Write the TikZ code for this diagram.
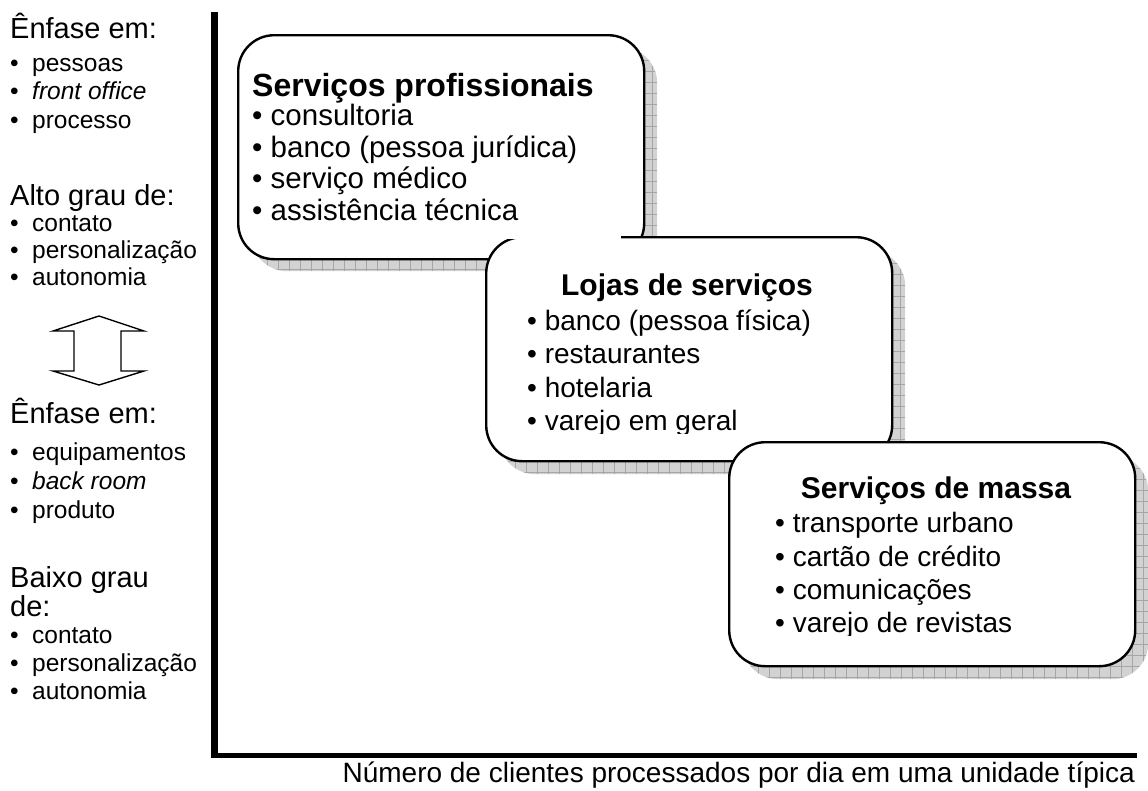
\documentclass[tikz,border=0pt]{standalone}
\usepackage{fontspec}
\setmainfont{Liberation Sans}
\tikzset{
  boxshape/.style={draw=black, line width=2.4pt, fill=white, rounded corners=36pt,
    minimum width=406pt, minimum height=224pt, inner sep=0pt, anchor=north west},
  shadowshape/.style={fill=gray!35, rounded corners=36pt,
    minimum width=406pt, minimum height=224pt, inner sep=0pt, anchor=north west,
    path picture={\draw[gray!70, line width=0.7pt, step=11pt]
      (path picture bounding box.south west) grid (path picture bounding box.north east);}},
  lefthead/.style={anchor=base west, inner sep=0pt, font=\fontsize{29}{34}\selectfont},
  leftitem/.style={anchor=base west, inner sep=0pt, font=\fontsize{24.5}{29}\selectfont},
  titleA/.style={anchor=base west, inner sep=0pt, font=\fontsize{32}{38}\selectfont\bfseries},
  itemA/.style={anchor=base west, inner sep=0pt, font=\fontsize{29.5}{34}\selectfont},
  titleB/.style={anchor=base, inner sep=0pt, font=\fontsize{30}{36}\selectfont\bfseries},
  itemB/.style={anchor=base west, inner sep=0pt, font=\fontsize{28}{33}\selectfont},
  axislabel/.style={anchor=base east, inner sep=0pt, font=\fontsize{28}{33}\selectfont},
}
\newcommand\lbul{\makebox[22pt][l]{•}}
\begin{document}
\begin{tikzpicture}[x=1pt,y=-1pt]
\useasboundingbox (0,0) rectangle (1148,790);

% left column
\node[lefthead] (h1) at (10,38) {Ênfase em:};
\node[leftitem] (h1a) at (10,71) {\lbul pessoas};
\node[leftitem] (h1b) at (10,99.5) {\lbul\itshape front office};
\node[leftitem] (h1c) at (10,128) {\lbul processo};
\node[lefthead] (h2) at (10,205) {Alto grau de:};
\node[leftitem] (h2a) at (10,231) {\lbul contato};
\node[leftitem] (h2b) at (10,258.5) {\lbul personalização};
\node[leftitem] (h2c) at (10,285) {\lbul autonomia};

\draw[line width=1.4pt, fill=white]
  (99,316) -- (144,331) -- (121,331) -- (121,371) -- (144,371) -- (99,385)
  -- (53,371) -- (74,371) -- (74,331) -- (53,331) -- cycle;

\node[lefthead] (h3) at (10,423) {Ênfase em:};
\node[leftitem] (h3a) at (10,460) {\lbul equipamentos};
\node[leftitem] (h3b) at (10,489) {\lbul\itshape back room};
\node[leftitem] (h3c) at (10,518) {\lbul produto};
\node[lefthead] (h4) at (10,587) {Baixo grau};
\node[lefthead] (h4x) at (10,616) {de:};
\node[leftitem] (h4a) at (10,643) {\lbul contato};
\node[leftitem] (h4b) at (10,671) {\lbul personalização};
\node[leftitem] (h4c) at (10,699) {\lbul autonomia};

% axes
\fill (211,12) rectangle (218,758);
\fill (211,752.5) rectangle (1137,758);
\node[axislabel] (xl) at (1135,782) {Número de clientes processados por dia em uma unidade típica};

% box 1
\node[shadowshape] (s1) at (251,47) {};
\node[boxshape] (b1) at (237,34) {};
% box 2
\node[shadowshape] (s2) at (499,250) {};
\node[boxshape] (b2) at (485,236) {};
% text frame of box 1
\fill[white] (248,50) rectangle (621,238.5);
\node[titleA] (t1) at (252,96) {Serviços profissionais};
\node[itemA] (t1a) at (252,125) {• consultoria};
\node[itemA] (t1b) at (252,157) {• banco (pessoa jurídica)};
\node[itemA] (t1c) at (252,188.5) {• serviço médico};
\node[itemA] (t1d) at (252,220) {• assistência técnica};
% box 3
\node[shadowshape] (s3) at (742,455) {};
\node[boxshape] (b3) at (728,441) {};
% text of box 2
\begin{scope}
\clip (490,240) rectangle (886,433.5);
\node[titleB] (t2) at (687,295) {Lojas de serviços};
\node[itemB] (t2a) at (527,330) {• banco (pessoa física)};
\node[itemB] (t2b) at (527,363.5) {• restaurantes};
\node[itemB] (t2c) at (527,397) {• hotelaria};
\node[itemB] (t2d) at (527,430.5) {• varejo em geral};
\end{scope}
% text of box 3
\begin{scope}
\clip (733,445) rectangle (1128,635);
\node[titleB] (t3) at (936,498) {Serviços de massa};
\node[itemB] (t3a) at (775,532) {• transporte urbano};
\node[itemB] (t3b) at (775,566) {• cartão de crédito};
\node[itemB] (t3c) at (775,599) {• comunicações};
\node[itemB] (t3d) at (775,632.5) {• varejo de revistas};
\end{scope}
\end{tikzpicture}
\end{document}
